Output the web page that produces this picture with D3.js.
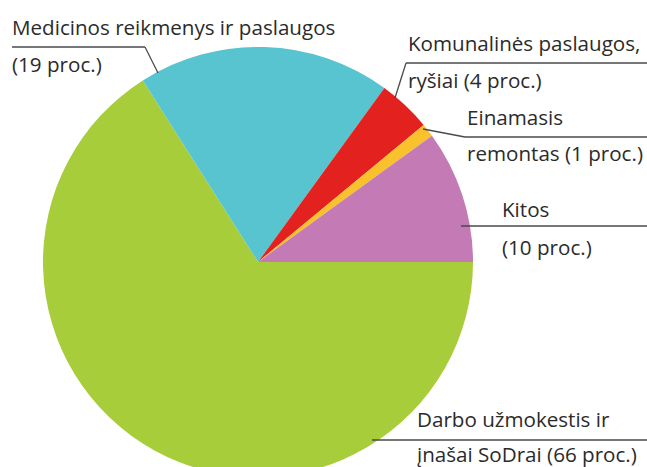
<!DOCTYPE html>
<html>
<head>
<meta charset="utf-8">
<script src="https://cdn.jsdelivr.net/npm/d3@7"></script>
<style>
  html, body { margin: 0; padding: 0; background: #fff; }
  svg text { font-family: "Open Sans", "Noto Sans", sans-serif; fill: #2b2b2b; }
</style>
</head>
<body>
<svg id="chart" width="647" height="467"></svg>
<script>
// shares in clockwise order starting at 3 o'clock
const categories = ["Darbo užmokestis ir įnašai SoDrai", "Medicinos reikmenys ir paslaugos", "Komunalinės paslaugos, ryšiai", "Einamasis remontas", "Kitos"];
const values = [66, 19, 4, 1, 10];
const colors = ["#a8cd3b", "#57c4d0", "#e3221f", "#f9c12c", "#c47ab4"];

// label lines (two rows each)
const labelTop = ["Darbo užmokestis ir", "Medicinos reikmenys ir paslaugos", "Komunalinės paslaugos,", "Einamasis", "Kitos"];
const labelBottom = ["įnašai SoDrai (66 proc.)", "(19 proc.)", "ryšiai (4 proc.)", "remontas (1 proc.)", "(10 proc.)"];

const svg = d3.select("#chart");
const cx = 258, cy = 262, r = 215;

const pie = d3.pie().sort(null).value(d => d)
  .startAngle(Math.PI / 2).endAngle(Math.PI / 2 + 2 * Math.PI);
const arc = d3.arc().innerRadius(0).outerRadius(r);

const g = svg.append("g").attr("transform", `translate(${cx},${cy})`);
g.selectAll("path")
  .data(pie(values))
  .enter()
  .append("path")
  .attr("d", arc)
  .attr("fill", (d, i) => colors[i]);

// label layout: text x, top baseline, line y, bottom baseline, leader start, leader knee
const layout = [
  { x: 417, y1: 427, ly: 440, y2: 462, lx0: 372, lx1: 647, pts: null },
  { x: 12, y1: 35, ly: 47, y2: 72, lx0: 12, lx1: 145, pts: [[145, 47], [158, 73]] },
  { x: 408, y1: 51, ly: 63, y2: 88, lx0: 406, lx1: 647, pts: [[406, 63], [395, 98]] },
  { x: 467, y1: 125, ly: 137, y2: 161, lx0: 465, lx1: 647, pts: [[465, 137], [423, 129]] },
  { x: 502, y1: 217, ly: 226, y2: 255, lx0: 461, lx1: 647, pts: null }
];

const line = d3.line();
layout.forEach((l, i) => {
  svg.append("line")
    .attr("x1", l.lx0).attr("x2", l.lx1)
    .attr("y1", l.ly).attr("y2", l.ly)
    .attr("stroke", "#4a4a4a").attr("stroke-width", 1.3);
  if (l.pts) {
    svg.append("path").attr("d", line(l.pts))
      .attr("fill", "none").attr("stroke", "#4a4a4a").attr("stroke-width", 1.3);
  }
  svg.append("text").attr("x", l.x).attr("y", l.y1)
    .attr("font-size", 20.6).text(labelTop[i]);
  svg.append("text").attr("x", l.x).attr("y", l.y2)
    .attr("font-size", 20.6).text(labelBottom[i]);
});
</script>
</body>
</html>
